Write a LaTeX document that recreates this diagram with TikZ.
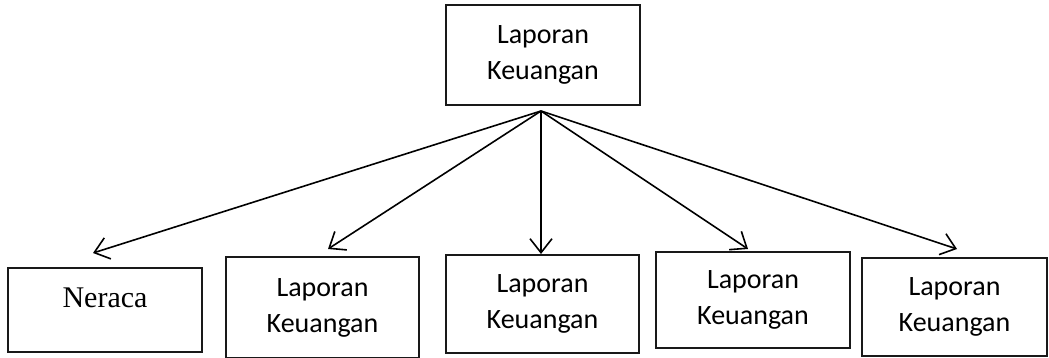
\documentclass[tikz,border=0pt]{standalone}
\usepackage{fontspec}
\newfontfamily\carlito{Carlito}
\newfontfamily\serifface{Liberation Serif}
\usetikzlibrary{arrows.meta}
\begin{document}
\begin{tikzpicture}[x=1pt,y=-1pt,
  box/.style={draw=black!90, line width=1.4pt, inner sep=0pt, align=center,
    font=\carlito\fontsize{28}{36}\selectfont},
  arr/.style={line width=1.6pt, -{Straight Barb[length=14pt,width=22pt,line width=1.6pt]}}]
  \useasboundingbox (0,0) rectangle (1049,358);

  % parent report
  \node[box, minimum width=194pt, minimum height=100pt] (top) at (543,55) {Laporan\\Keuangan};

  % child reports
  \node[box, minimum width=194pt, minimum height=84pt] (b1) at (105,310) {};
  \node[font=\serifface\fontsize{30}{36}\selectfont] (neraca) at (105,298) {Neraca};
  \node[box, minimum width=193pt, minimum height=101pt] (b2) at (322.5,307.5) {Laporan\\Keuangan};
  \node[box, minimum width=193pt, minimum height=98pt] (b3) at (542.5,304) {Laporan\\Keuangan};
  \node[box, minimum width=194pt, minimum height=96pt] (b4) at (753,300) {Laporan\\Keuangan};
  \node[box, minimum width=185pt, minimum height=98pt] (b5) at (954.5,307) {Laporan\\Keuangan};

  % fan-out point and arrow tips
  \coordinate (apex) at (541,111);
  \coordinate (t1) at (93,253);
  \coordinate (t2) at (328,249);
  \coordinate (t3) at (541,254);
  \coordinate (t4) at (748,249);
  \coordinate (t5) at (957,249);

  \foreach \t in {t1,t2,t3,t4,t5}
    \draw[arr] (apex) -- (\t);
\end{tikzpicture}
\end{document}
